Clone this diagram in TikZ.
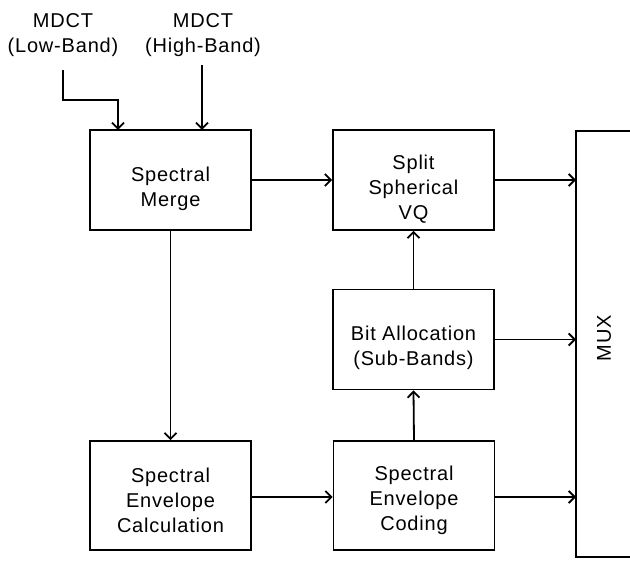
\documentclass[tikz,border=0pt]{standalone}
\usepackage{fontspec}
\setmainfont[LetterSpace=4]{Liberation Sans}
\usetikzlibrary{arrows.meta}
\newcommand{\dropa}{\rule{0pt}{32pt}}
\newcommand{\dropb}{\rule{0pt}{25pt}}
\begin{document}
\begin{tikzpicture}[x=1pt,y=-1pt,
  blk/.style={draw,line width=1.8pt,minimum width=161pt,align=center,inner sep=0pt,
    font=\fontsize{20}{25}\selectfont},
  lab/.style={align=center,inner sep=0pt,font=\fontsize{20}{25}\selectfont},
  arr/.style={line width=1.8pt,-{Straight Barb[length=6pt,width=12pt,line width=1.8pt]}},
  ln/.style={line width=1.8pt}]
\useasboundingbox (0,0) rectangle (630,561);
\fill[white] (0,0) rectangle (630,561);
\node[lab] (lowlab) at (63,35) {MDCT\\(Low-Band)};
\node[lab] (highlab) at (203,35) {MDCT\\(High-Band)};
\node[blk,minimum height=100pt] (merge) at (170.5,180) {\dropa Spectral\\Merge};
\node[blk,minimum height=100pt] (vq) at (413.5,180) {\dropa Split\\Spherical\\VQ};
\node[blk,minimum height=100pt] (bit) at (413.5,339.5) {\dropa Bit Allocation\\(Sub-Bands)};
\node[blk,minimum height=109pt] (calc) at (170.5,495.5) {\dropb Spectral\\Envelope\\Calculation};
\node[blk,minimum height=109pt] (coding) at (414,495.5) {\dropb Spectral\\Envelope\\Coding};
\draw[ln] (640,131) -- (576,131) -- (576,557) -- (640,557);
\node[lab,rotate=90] (mux) at (604,338) {MUX};
\coordinate (lowstart) at (63,70);
\coordinate (lowbend) at (63,100);
\coordinate (lowend) at (118,130);
\coordinate (highstart) at (202,65);
\coordinate (highend) at (202,130);
\coordinate (m1) at (576,180);
\coordinate (m2) at (576,339.5);
\coordinate (m3) at (576,497);
\draw[arr] (lowstart) -- (lowbend) -| (lowend);
\draw[arr] (highstart) -- (highend);
\draw[arr] (merge.east) -- (vq.west);
\draw[arr] (vq.east) -- (m1);
\draw[arr] (bit.north) -- (vq.south);
\draw[arr] (bit.east) -- (m2);
\draw[arr] (coding.north) -- (bit.south);
\draw[arr] (merge.south) -- (calc.north);
\draw[arr] (calc.east |- m3) -- (coding.west |- m3);
\draw[arr] (coding.east |- m3) -- (m3);
\end{tikzpicture}
\end{document}
